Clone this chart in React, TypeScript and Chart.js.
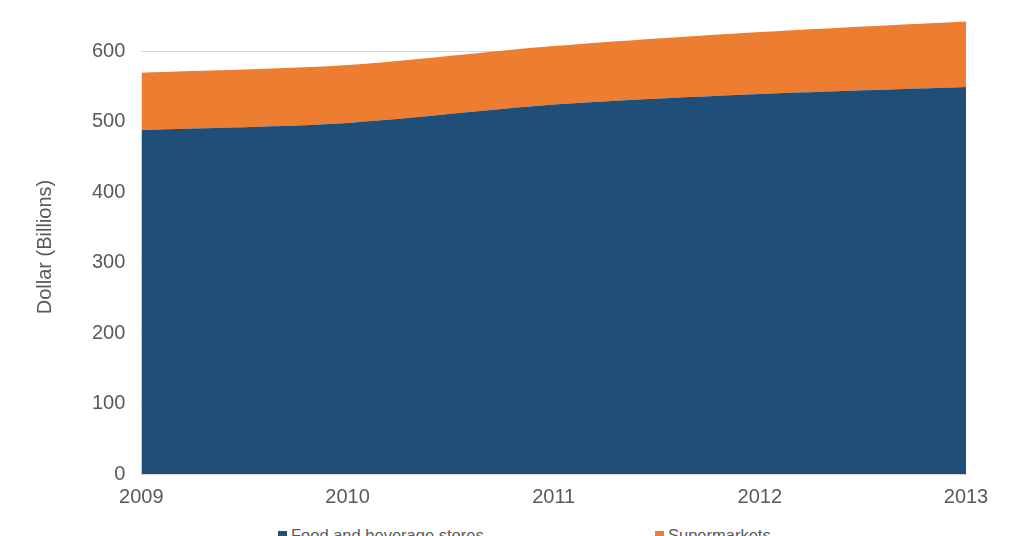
import React, { useEffect, useRef } from "react";
import { Chart, registerables } from "chart.js";

Chart.register(...registerables);

const years = ["2009", "2010", "2011", "2012", "2013"];
const seriesNames = ["Food and beverage stores", "Supermarkets"];
const foodBeverage = [488, 498, 524, 539, 549];
const supermarkets = [81, 82, 83, 88, 93];
const yTicks = [0, 100, 200, 300, 400, 500, 600];
const colors = ["#1f4e79", "#ed7d31"];

const FONT = "'Liberation Sans', Arial, sans-serif";
const TEXT = "#595959";

export default function App() {
  const chartRef = useRef<HTMLCanvasElement | null>(null);

  useEffect(() => {
    const ctx = chartRef.current?.getContext("2d");
    if (!ctx) return;

    const myChart = new Chart(ctx, {
      type: "line",
      data: {
        labels: years,
        datasets: [
          {
            label: seriesNames[0],
            data: foodBeverage,
            backgroundColor: colors[0],
            borderColor: colors[0],
            borderWidth: 0,
            pointRadius: 0,
            fill: "origin",
            tension: 0.3,
          },
          {
            label: seriesNames[1],
            data: supermarkets,
            backgroundColor: colors[1],
            borderColor: colors[1],
            borderWidth: 0,
            pointRadius: 0,
            fill: "-1",
            tension: 0.3,
          },
        ],
      },
      options: {
        animation: false,
        responsive: true,
        maintainAspectRatio: false,
        layout: { padding: { top: 0, right: 50, left: 21, bottom: 0 } },
        plugins: {
          legend: { display: false },
          tooltip: { enabled: false },
        },
        scales: {
          x: {
            offset: false,
            grid: { display: false, drawTicks: false },
            border: { color: "#d9d9d9" },
            ticks: { color: TEXT, font: { family: FONT, size: 20 }, padding: 11 },
          },
          y: {
            stacked: true,
            min: 0,
            max: 644,
            afterBuildTicks: (axis) => {
              axis.ticks = yTicks.map((v) => ({ value: v }));
            },
            grid: { color: "#d9d9d9", drawTicks: false },
            border: { display: false },
            ticks: { color: TEXT, font: { family: FONT, size: 20 }, padding: 16 },
            title: {
              display: true,
              text: "Dollar (Billions)",
              color: TEXT,
              font: { family: FONT, size: 20 },
              padding: { top: 4, bottom: 19 },
            },
          },
        },
      },
    });

    return () => {
      myChart.destroy();
    };
  }, []);

  return (
    <div style={{ position: "relative", width: 1008, height: 560 }}>
      <div style={{ position: "relative", width: 1008, height: 528, marginTop: -16 }}>
        <canvas ref={chartRef}></canvas>
      </div>
      {seriesNames.map((name, i) => (
        <div
          key={name}
          style={{
            position: "absolute",
            top: 534,
            left: i === 0 ? 270 : 647,
            display: "flex",
            alignItems: "center",
            fontFamily: FONT,
            fontSize: 16.5,
            color: TEXT,
            whiteSpace: "nowrap",
          }}
        >
          <span
            style={{
              display: "inline-block",
              width: 9,
              height: 9,
              background: colors[i],
              marginRight: 4,
            }}
          ></span>
          {name}
        </div>
      ))}
    </div>
  );
}
